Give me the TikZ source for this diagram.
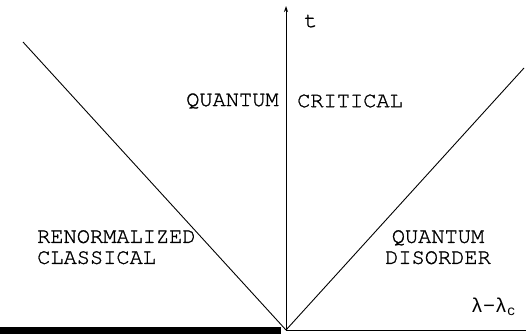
\documentclass[tikz,border=0pt]{standalone}
\usepackage{fontspec}
\setmonofont[FakeBold=1.2]{TeX Gyre Cursor}
\newfontfamily\lamfont{Liberation Mono}
\usetikzlibrary{arrows.meta}
\tikzset{
  lbl/.style={font=\ttfamily\fontsize{22}{21}\selectfont, inner sep=0pt, align=left},
  ln/.style={line width=0.9pt, black},
}
\begin{document}
\begin{tikzpicture}[x=1pt,y=-1pt]
\useasboundingbox (0,0) rectangle (526,335);
\coordinate (O) at (286,330);
\coordinate (T) at (286,6);
\coordinate (X) at (526,330);
\coordinate (L) at (23,42);
\coordinate (R) at (524,68);
\coordinate (B0) at (0,330.5);
\coordinate (B1) at (281,330.5);
\draw[line width=7pt] (B0) -- (B1);
\draw[ln] (O) -- (X);
\draw[ln, -{Stealth[length=6pt,width=4pt]}] (O) -- (T);
\draw[ln] (L) -- (O);
\draw[ln] (O) -- (R);
\node[lbl, anchor=west] (t) at (304,21) {t};
\node[lbl, anchor=west] (qc1) at (186,101) {QUANTUM};
\node[lbl, anchor=west] (qc2) at (297,101) {CRITICAL};
\node[lbl, anchor=north west] (rc) at (37,230) {RENORMALIZED\\CLASSICAL};
\node[lbl, anchor=north, align=center] (qd) at (438,230) {QUANTUM\\DISORDER};
\node[font=\lamfont\fontsize{20}{20}\selectfont, inner sep=0pt, anchor=west] (lam) at (471,307) {λ−λ\textsubscript{c}};
\end{tikzpicture}
\end{document}
